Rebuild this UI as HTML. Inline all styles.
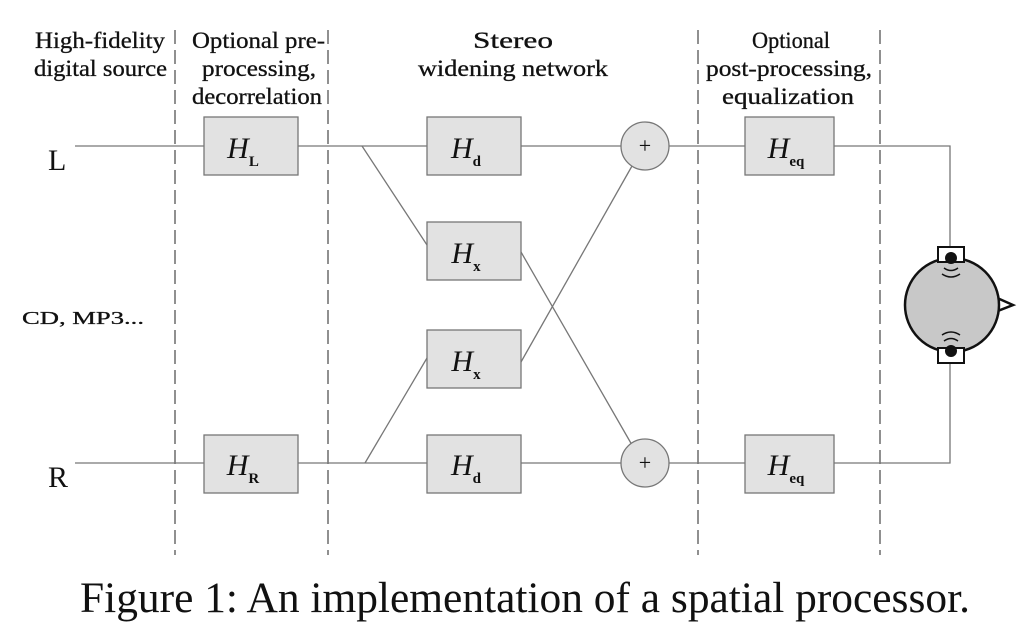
<!DOCTYPE html>
<html><head><meta charset="utf-8"><style>
html,body{margin:0;padding:0;background:#fff;}
svg{display:block;}
text{font-family:"Liberation Serif",serif;fill:#111;}
</style></head><body>
<svg width="1031" height="637" viewBox="0 0 1031 637" xmlns="http://www.w3.org/2000/svg">
<g stroke="#555" stroke-width="1.3" stroke-dasharray="14,6">
<line x1="175" y1="30" x2="175" y2="555"/>
<line x1="328" y1="30" x2="328" y2="555"/>
<line x1="698" y1="30" x2="698" y2="555"/>
<line x1="880" y1="30" x2="880" y2="555"/>
</g>
<g font-size="23" stroke="#111" stroke-width="0.3">
<text x="35" y="48" textLength="130" lengthAdjust="spacingAndGlyphs">High-fidelity</text>
<text x="34" y="76" textLength="133" lengthAdjust="spacingAndGlyphs">digital source</text>
<text x="192" y="48" textLength="133" lengthAdjust="spacingAndGlyphs">Optional pre-</text>
<text x="202" y="76" textLength="114" lengthAdjust="spacingAndGlyphs">processing,</text>
<text x="192" y="104" textLength="130" lengthAdjust="spacingAndGlyphs">decorrelation</text>
<text x="473" y="48" textLength="80" lengthAdjust="spacingAndGlyphs">Stereo</text>
<text x="418" y="76" textLength="190" lengthAdjust="spacingAndGlyphs">widening network</text>
<text x="752" y="48" textLength="78" lengthAdjust="spacingAndGlyphs">Optional</text>
<text x="706" y="76" textLength="166" lengthAdjust="spacingAndGlyphs">post-processing,</text>
<text x="722" y="104" textLength="132" lengthAdjust="spacingAndGlyphs">equalization</text>
</g>
<text x="48" y="170" font-size="30">L</text>
<text x="48" y="487" font-size="30">R</text>
<text x="22" y="324" font-size="18" stroke="#111" stroke-width="0.3" textLength="122" lengthAdjust="spacingAndGlyphs">CD, MP3...</text>
<g stroke="#777" stroke-width="1.3" fill="none">
<line x1="75" y1="146" x2="204" y2="146"/>
<line x1="298" y1="146" x2="427" y2="146"/>
<line x1="521" y1="146" x2="621" y2="146"/>
<line x1="669" y1="146" x2="745" y2="146"/>
<polyline points="834,146 950,146 950,247"/>
<line x1="75" y1="463" x2="204" y2="463"/>
<line x1="298" y1="463" x2="427" y2="463"/>
<line x1="521" y1="463" x2="621" y2="463"/>
<line x1="669" y1="463" x2="745" y2="463"/>
<polyline points="834,463 950,463 950,363"/>
<line x1="362" y1="146" x2="427" y2="245"/>
<line x1="365" y1="463" x2="427" y2="358"/>
<line x1="521" y1="252" x2="632" y2="445"/>
<line x1="521" y1="362" x2="632" y2="166"/>
</g>
<g fill="#e2e2e2" stroke="#777" stroke-width="1.3">
<rect x="204" y="117" width="94" height="58"/>
<rect x="427" y="117" width="94" height="58"/>
<rect x="427" y="222" width="94" height="58"/>
<rect x="427" y="330" width="94" height="58"/>
<rect x="204" y="435" width="94" height="58"/>
<rect x="427" y="435" width="94" height="58"/>
<rect x="745" y="117" width="89" height="58"/>
<rect x="745" y="435" width="89" height="58"/>
<circle cx="645" cy="146" r="24"/>
<circle cx="645" cy="463" r="24"/>
</g>
<g font-size="30" font-style="italic" text-anchor="middle">
<text x="243" y="158">H<tspan font-size="15" font-style="normal" font-weight="bold" dy="8">L</tspan></text>
<text x="466" y="158">H<tspan font-size="15" font-style="normal" font-weight="bold" dy="8">d</tspan></text>
<text x="466" y="263">H<tspan font-size="15" font-style="normal" font-weight="bold" dy="8">x</tspan></text>
<text x="466" y="371">H<tspan font-size="15" font-style="normal" font-weight="bold" dy="8">x</tspan></text>
<text x="243" y="475">H<tspan font-size="15" font-style="normal" font-weight="bold" dy="8">R</tspan></text>
<text x="466" y="475">H<tspan font-size="15" font-style="normal" font-weight="bold" dy="8">d</tspan></text>
<text x="786" y="158">H<tspan font-size="15" font-style="normal" font-weight="bold" dy="8">eq</tspan></text>
<text x="786" y="475">H<tspan font-size="15" font-style="normal" font-weight="bold" dy="8">eq</tspan></text>
</g>
<g font-size="22" text-anchor="middle">
<text x="645" y="153">+</text>
<text x="645" y="470">+</text>
</g>
<g stroke="#111" stroke-width="2.5">
<polygon points="995,297 1013,305 995,312" fill="#fff"/>
<circle cx="952" cy="305" r="47" fill="#c8c8c8"/>
<rect x="938" y="247" width="26" height="15" fill="#fff" stroke-width="2"/>
<rect x="938" y="348" width="26" height="15" fill="#fff" stroke-width="2"/>
<circle cx="951" cy="258" r="6" fill="#111" stroke="none"/>
<circle cx="951" cy="351" r="6" fill="#111" stroke="none"/>
<path d="M944 268 Q951 273 958 268 M942 274 Q951 280 960 274" fill="none" stroke-width="1.5"/>
<path d="M944 341 Q951 336 958 341 M942 335 Q951 329 960 335" fill="none" stroke-width="1.5"/>
</g>
<text x="80" y="612" font-size="43" textLength="890" lengthAdjust="spacingAndGlyphs">Figure 1: An implementation of a spatial processor.</text>
</svg>
</body></html>
